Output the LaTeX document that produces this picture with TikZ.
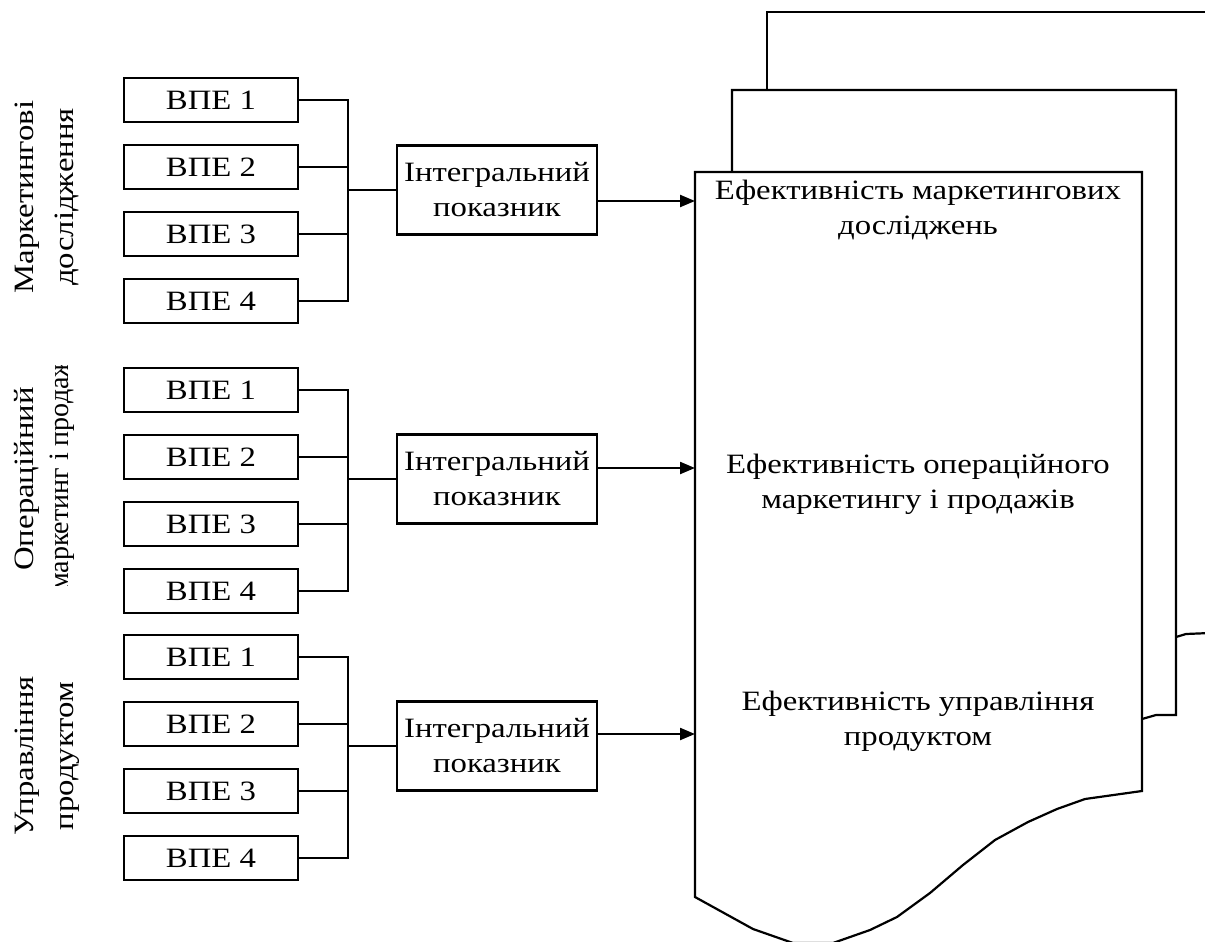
\documentclass[tikz,border=0pt]{standalone}
\usepackage{fontspec}
\setmainfont[FakeStretch=1.17]{Liberation Serif}
\newfontfamily\plainserif{Liberation Serif}
\usetikzlibrary{arrows.meta}

\tikzset{x=1pt, y=-1pt}

\begin{document}
\begin{tikzpicture}[x=1pt,y=-1pt,line width=2.2pt,
  vpe/.style={draw, minimum width=174pt, minimum height=44pt, inner sep=0pt, font=\fontsize{28}{35}\selectfont},
  integ/.style={draw, minimum width=200pt, minimum height=89pt, inner sep=0pt, align=center, font=\fontsize{28}{35}\selectfont},
  doctext/.style={align=center, font=\fontsize{28}{35}\selectfont},
  side/.style={rotate=90, align=center, font=\fontsize{28}{40}\selectfont}]
\useasboundingbox (0,0) rectangle (1205,942);
\clip (0,0) rectangle (1205,942);
% stack of pages, back to front
\draw (767,90) -- (767,12) -- (1210,12);
\draw (1176,637) -- (1186,634) -- (1210,633);
\draw (732,172) -- (732,90) -- (1176,90) -- (1176,715) -- (1156,715) -- (1142,719);
\draw[fill=white] (695,172) -- (1142,172) -- (1142,791) -- (1085,799) -- (1057,809)
  -- (1028,822) -- (995,840) -- (963,865) -- (930,893) -- (897,917) -- (870,930)
  -- (833,943) -- (793,943) -- (753,929) -- (695,897) -- cycle;
\node[doctext] (t1) at (918,210) {Ефективність маркетингових\\досліджень};
\node[doctext] (t2) at (918,484) {Ефективність операційного\\маркетингу і продажів};
\node[doctext] (t3) at (918,721) {Ефективність управління\\продуктом};
% three groups: boxes, bracket, integral box, arrow
\foreach \g/\y/\m/\a in {1/100/190/201, 2/390/479/468, 3/657/746/734}{
  \foreach \i in {1,...,4}
    \node[vpe] (v\g\i) at (211,{\y+67*(\i-1)}) {ВПЕ \i};
  \node[integ] (int\g) at (497,\m) {Інтегральний\\показник};
  \coordinate (j\g) at (348,\m);
  \coordinate (d\g) at (695,\a);
  \draw (v\g1.east) -- (v\g1.east -| j\g) -- (v\g4.east -| j\g) -- (v\g4.east);
  \draw (v\g2.east) -- (v\g2.east -| j\g) (v\g3.east) -- (v\g3.east -| j\g);
  \draw (j\g) -- (int\g.west);
  \draw[-{Triangle[length=15pt,width=12pt]}] (int\g.east |- d\g) -- (d\g);
}
% side labels
\node[side] (s1) at (47,197) {Маркетингові\\дослідження};
\node[side] (s3) at (47,756) {Управління\\продуктом};
\node[side, anchor=base] (s2a) at (33,479) {Операційний};
\begin{scope}
\clip (0,365) rectangle (110,585);
\node[side, anchor=base west, inner sep=0pt, font=\plainserif\fontsize{28}{40}\selectfont] (s2b) at (68,592) {маркетинг і продажів};
\end{scope}
\end{tikzpicture}
\end{document}
